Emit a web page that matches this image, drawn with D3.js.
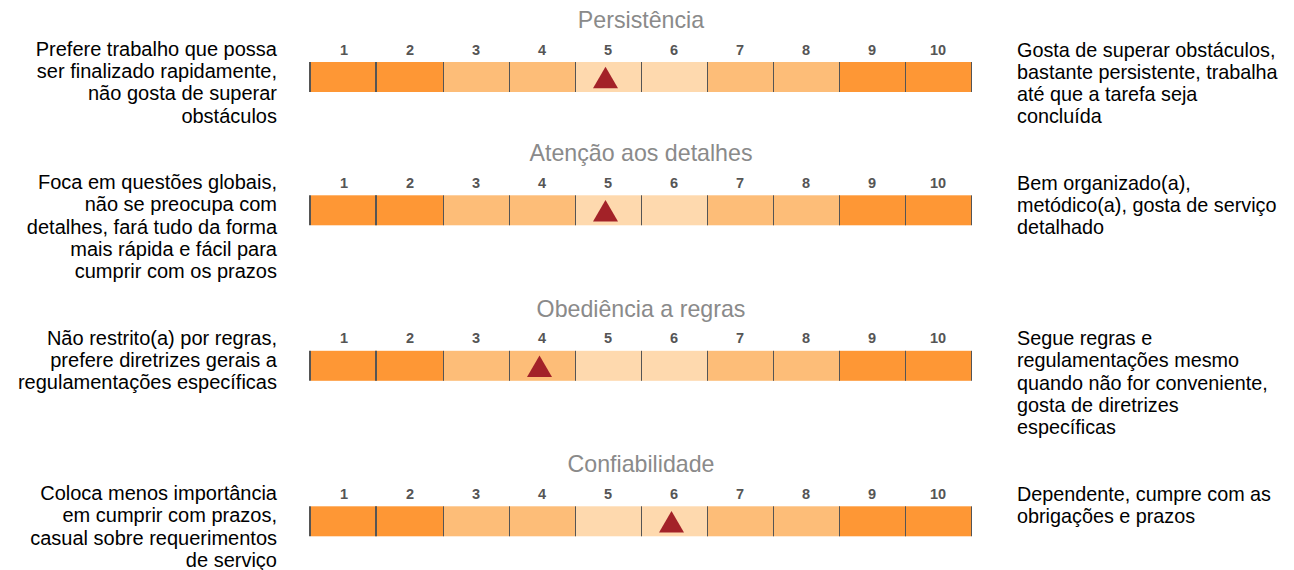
<!DOCTYPE html>
<html lang="pt">
<head>
<meta charset="UTF-8">
<title>Perfil</title>
<script src="https://cdn.jsdelivr.net/npm/d3@7"></script>
<style>
    body { margin: 0; background: #fff; }
    svg text { font-family: Arial, "Liberation Sans", Helvetica, sans-serif; }
</style>
</head>
<body>
<svg id="chart" width="1294" height="570"></svg>
<script>
// scale steps and the shade level of each cell (0 = strongest)
var steps = [1, 2, 3, 4, 5, 6, 7, 8, 9, 10];
var shadeLevels = [0, 0, 1, 1, 2, 2, 1, 1, 0, 0];

var titles = ["Persistência", "Atenção aos detalhes", "Obediência a regras", "Confiabilidade"];
var scores = [5, 5, 4, 6];

var leftTexts = [
    ["Prefere trabalho que possa", "ser finalizado rapidamente,", "não gosta de superar", "obstáculos"],
    ["Foca em questões globais,", "não se preocupa com", "detalhes, fará tudo da forma", "mais rápida e fácil para", "cumprir com os prazos"],
    ["Não restrito(a) por regras,", "prefere diretrizes gerais a", "regulamentações específicas"],
    ["Coloca menos importância", "em cumprir com prazos,", "casual sobre requerimentos", "de serviço"]
];
var rightTexts = [
    ["Gosta de superar obstáculos,", "bastante persistente, trabalha", "até que a tarefa seja", "concluída"],
    ["Bem organizado(a),", "metódico(a), gosta de serviço", "detalhado"],
    ["Segue regras e", "regulamentações mesmo", "quando não for conveniente,", "gosta de diretrizes", "específicas"],
    ["Dependente, cumpre com as", "obrigações e prazos"]
];

var shadeColors = ["#fe9735", "#fdbd78", "#fed9ae"];
var lineH = 22.2;

var svg = d3.select("#chart");
var x = d3.scaleBand().domain(steps).range([311, 971]).padding(0);
var barH = 30;

// panel tops depend on the number of text lines
var tops = [];
var acc = 0;
titles.forEach(function(t, i) {
    tops.push(acc);
    var n = Math.max(leftTexts[i].length, rightTexts[i].length);
    acc += 44.5 + lineH * n;
});

titles.forEach(function(title, i) {
    var g = svg.append("g").attr("transform", "translate(0," + tops[i] + ")");

    g.append("text")
        .attr("x", (x.range()[0] + x.range()[1]) / 2)
        .attr("y", 28)
        .attr("text-anchor", "middle")
        .attr("font-size", 23.2)
        .attr("fill", "#8a8a8a")
        .text(title);

    g.selectAll("text.tick")
        .data(steps)
        .enter().append("text")
        .attr("class", "tick")
        .attr("x", function(d) { return x(d) + x.bandwidth() / 2; })
        .attr("y", 54.5)
        .attr("text-anchor", "middle")
        .attr("font-size", 14.5)
        .attr("font-weight", "bold")
        .attr("fill", "#555")
        .text(function(d) { return d; });

    var barTop = 62;
    g.selectAll("rect.cell")
        .data(steps)
        .enter().append("rect")
        .attr("class", "cell")
        .attr("x", function(d) { return x(d); })
        .attr("y", barTop)
        .attr("width", x.bandwidth())
        .attr("height", barH)
        .attr("fill", function(d, j) { return shadeColors[shadeLevels[j]]; });

    // cell borders
    var edges = steps.map(function(d) { return x(d); }).concat([x.range()[1]]);
    g.selectAll("line.edge")
        .data(edges)
        .enter().append("line")
        .attr("class", "edge")
        .attr("x1", function(d, j) { return j < 2 ? d - 1 : d + 0.5; })
        .attr("x2", function(d, j) { return j < 2 ? d - 1 : d + 0.5; })
        .attr("y1", barTop)
        .attr("y2", barTop + barH)
        .attr("stroke", "#555")
        .attr("stroke-width", function(d, j) { return j < 2 ? 2 : 1; });

    // score marker
    var cx = x(scores[i]) + x.bandwidth() / 2 - 2.5;
    var tw = 25, th = 21.5, base = barTop + 26.3;
    g.append("path")
        .attr("d", "M" + (cx - tw / 2) + "," + base + "L" + cx + "," + (base - th) + "L" + (cx + tw / 2) + "," + base + "Z")
        .attr("fill", "#a32228");

    g.selectAll("text.left")
        .data(leftTexts[i])
        .enter().append("text")
        .attr("class", "left")
        .attr("x", 277)
        .attr("y", function(d, j) { return 56 + j * lineH; })
        .attr("text-anchor", "end")
        .attr("font-size", 20)
        .attr("fill", "#000")
        .text(function(d) { return d; });

    g.selectAll("text.right")
        .data(rightTexts[i])
        .enter().append("text")
        .attr("class", "right")
        .attr("x", 1017)
        .attr("y", function(d, j) { return 56.5 + j * lineH; })
        .attr("font-size", 19.8)
        .attr("fill", "#000")
        .text(function(d) { return d; });
});
</script>
</body>
</html>
